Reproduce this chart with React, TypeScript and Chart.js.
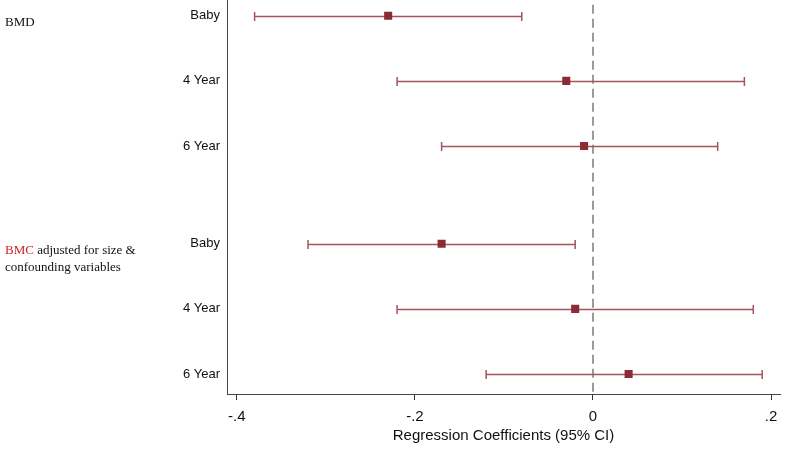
import React, { useEffect, useRef } from "react";
import { Chart, registerables } from "chart.js";

Chart.register(...registerables);

// ---- data ----
const categories = ["Baby", "4 Year", "6 Year"];
const bmdEstimate = [-0.23, -0.03, -0.01];
const bmdLower = [-0.38, -0.22, -0.17];
const bmdUpper = [-0.08, 0.17, 0.14];
const bmcEstimate = [-0.17, -0.02, 0.04];
const bmcLower = [-0.32, -0.22, -0.12];
const bmcUpper = [-0.02, 0.18, 0.19];
const xTickValues = [-0.4, -0.2, 0, 0.2];
const xTickLabels = ["-.4", "-.2", "0", ".2"];
const xTitle = "Regression Coefficients (95% CI)";
const groupLabelBMD = ["BMD"];
const groupLabelBMC = ["BMC", " adjusted for size &", "confounding variables"];

const GROUP_GAP = 3.5;

type Row = { x: number; y: number; lo: number; hi: number; label: string };

function buildRows(): Row[] {
  const rows: Row[] = [];
  const groups = [
    { est: bmdEstimate, lo: bmdLower, hi: bmdUpper },
    { est: bmcEstimate, lo: bmcLower, hi: bmcUpper },
  ];
  groups.forEach((g, gi) => {
    categories.forEach((c, i) => {
      rows.push({ x: g.est[i], y: gi * GROUP_GAP + i, lo: g.lo[i], hi: g.hi[i], label: c });
    });
  });
  return rows;
}

const LINE_COLOR = "#a3545d";
const MARK_COLOR = "#8c2a35";

const errorBarPlugin = {
  id: "errorBars",
  beforeDatasetsDraw(chart: any) {
    const { ctx, scales } = chart;
    const xs = scales.x;
    const ys = scales.y;
    const data = chart.data.datasets[0].data as Row[];
    ctx.save();
    ctx.strokeStyle = LINE_COLOR;
    ctx.lineWidth = 1.5;
    data.forEach((r) => {
      const y = Math.round(ys.getPixelForValue(r.y)) + 0.5;
      const x1 = xs.getPixelForValue(r.lo);
      const x2 = xs.getPixelForValue(r.hi);
      ctx.beginPath();
      ctx.moveTo(x1, y);
      ctx.lineTo(x2, y);
      ctx.moveTo(x1, y - 4.5);
      ctx.lineTo(x1, y + 4.5);
      ctx.moveTo(x2, y - 4.5);
      ctx.lineTo(x2, y + 4.5);
      ctx.stroke();
    });
    ctx.restore();
  },
};

const refLinePlugin = {
  id: "refLine",
  beforeDatasetsDraw(chart: any) {
    const { ctx, scales, chartArea } = chart;
    const x = Math.round(scales.x.getPixelForValue(0));
    ctx.save();
    ctx.strokeStyle = "#9a9a9a";
    ctx.lineWidth = 2;
    ctx.setLineDash([9, 5]);
    ctx.beginPath();
    ctx.moveTo(x, chartArea.top + 4);
    ctx.lineTo(x, chartArea.bottom);
    ctx.stroke();
    ctx.restore();
  },
};

const groupLabelPlugin = {
  id: "groupLabels",
  afterDraw(chart: any) {
    const { ctx, scales } = chart;
    const ys = scales.y;
    ctx.save();
    ctx.font = "13px 'Liberation Serif', 'Times New Roman', serif";
    ctx.textBaseline = "middle";
    ctx.textAlign = "left";
    ctx.fillStyle = "#111";
    const y1 = ys.getPixelForValue(0) + 7;
    ctx.fillText(groupLabelBMD[0], 5, y1);

    const y2 = ys.getPixelForValue(GROUP_GAP) + 7;
    ctx.fillStyle = "#d42020";
    ctx.fillText(groupLabelBMC[0], 5, y2);
    const w = ctx.measureText(groupLabelBMC[0]).width;
    ctx.fillStyle = "#111";
    ctx.fillText(groupLabelBMC[1], 5 + w, y2);
    ctx.fillText(groupLabelBMC[2], 5, y2 + 17);
    ctx.restore();
  },
};

export default function App() {
  const ref = useRef<HTMLCanvasElement | null>(null);

  useEffect(() => {
    document.body.style.margin = "0";
    const rows = buildRows();
    const labelByPos = new Map<number, string>();
    rows.forEach((r) => labelByPos.set(r.y, r.label));
    const yPositions = rows.map((r) => r.y);

    const chart = new Chart(ref.current as HTMLCanvasElement, {
      type: "scatter",
      data: {
        datasets: [
          {
            data: rows as any,
            pointStyle: "rect",
            pointRadius: 5.7,
            pointHoverRadius: 5.7,
            backgroundColor: MARK_COLOR,
            borderColor: MARK_COLOR,
            borderWidth: 0,
          },
        ],
      },
      options: {
        responsive: false,
        animation: false,
        layout: { padding: { left: 0, right: 20, top: 0, bottom: 15 } },
        plugins: {
          legend: { display: false },
          tooltip: { enabled: false },
        },
        scales: {
          x: {
            type: "linear",
            min: -0.411,
            max: 0.21,
            grid: {
              display: true,
              drawOnChartArea: false,
              drawTicks: true,
              tickLength: 6,
              color: "#333",
            },
            border: { display: true, color: "#444", width: 1 },
            afterBuildTicks: (scale: any) => {
              scale.ticks = xTickValues.map((v) => ({ value: v }));
            },
            ticks: {
              padding: 8,
              color: "#111",
              font: { family: "'Liberation Sans', Arial, sans-serif", size: 15 },
              callback: (v: any) => {
                const i = xTickValues.findIndex((t) => Math.abs(t - Number(v)) < 1e-9);
                return i >= 0 ? xTickLabels[i] : "";
              },
              maxRotation: 0,
            },
            title: {
              display: true,
              text: xTitle,
              color: "#111",
              font: { family: "'Liberation Sans', Arial, sans-serif", size: 15 },
              padding: { top: 0, bottom: 0 },
            },
            afterFit: (scale: any) => {
              scale.height = 51;
            },
          },
          y: {
            type: "linear",
            reverse: true,
            min: -0.23,
            max: 5.806,
            grid: { display: false, drawTicks: false },
            border: { display: true, color: "#444", width: 1 },
            afterBuildTicks: (scale: any) => {
              scale.ticks = yPositions.map((v) => ({ value: v }));
            },
            ticks: {
              padding: 7,
              color: "#111",
              font: { family: "'Liberation Sans', Arial, sans-serif", size: 13 },
              callback: (v: any) => labelByPos.get(Number(v)) ?? "",
            },
            afterFit: (scale: any) => {
              scale.width = 227;
              scale.paddingTop = 0;
              scale.paddingBottom = 0;
            },
          },
        },
      },
      plugins: [refLinePlugin, errorBarPlugin, groupLabelPlugin],
    });
    return () => chart.destroy();
  }, []);

  return (
    <div style={{ width: 800, height: 460, background: "#fff", overflow: "hidden" }}>
      <canvas
        ref={ref}
        width={800}
        height={465}
        style={{ display: "block", marginTop: -5 }}
      />
    </div>
  );
}
